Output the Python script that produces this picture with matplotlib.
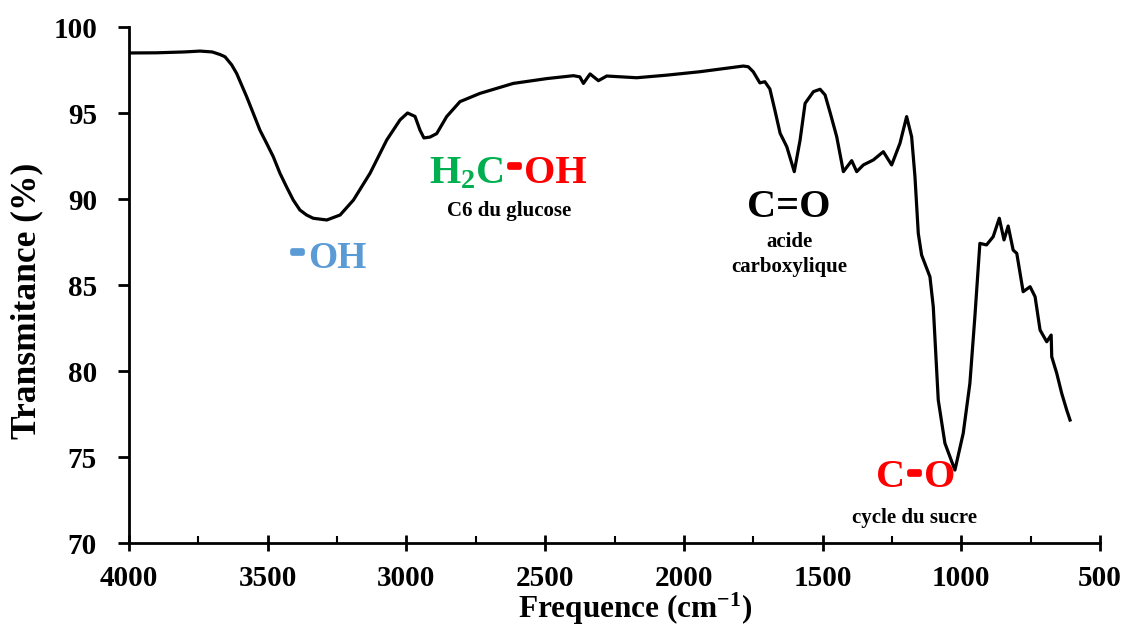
import matplotlib
matplotlib.use("Agg")
import matplotlib.pyplot as plt
import matplotlib.patheffects as pe
from matplotlib.ticker import MultipleLocator

plt.rcParams['font.family'] = ['Liberation Serif', 'DejaVu Serif']
plt.rcParams['font.weight'] = 'bold'
plt.rcParams['mathtext.fontset'] = 'custom'
plt.rcParams['mathtext.rm'] = 'Liberation Serif:bold'
plt.rcParams['mathtext.bf'] = 'Liberation Serif:bold'
plt.rcParams['mathtext.it'] = 'Liberation Serif:bold'
plt.rcParams['mathtext.default'] = 'rm'

# ---- data ----
wavenumber = [4000, 3900, 3800, 3744, 3700, 3672, 3654, 3630, 3612, 3576, 3552,
              3528, 3504, 3480, 3456, 3432, 3408, 3384, 3360, 3336, 3287, 3239,
              3191, 3131, 3071, 3023, 2996, 2969, 2951, 2937, 2915, 2891, 2855,
              2807, 2735, 2615, 2494, 2398, 2375, 2362, 2350, 2338, 2308, 2278,
              2170, 2062, 1942, 1786, 1768, 1750, 1726, 1708, 1690, 1672, 1653,
              1629, 1602, 1581, 1563, 1533, 1509, 1491, 1472, 1449, 1425, 1395,
              1377, 1353, 1317, 1281, 1251, 1221, 1197, 1179, 1167, 1155, 1143,
              1113, 1101, 1083, 1059, 1023, 993, 969, 951, 933, 909, 885, 863,
              846, 831, 813, 800, 777, 752, 734, 716, 692, 676, 674, 656, 638,
              620, 608]
transmittance = [98.49, 98.50, 98.55, 98.60, 98.55, 98.40, 98.27, 97.80, 97.30, 95.95, 94.98,
                 94.00, 93.24, 92.46, 91.50, 90.70, 89.94, 89.36, 89.07, 88.88, 88.78, 89.07,
                 89.94, 91.50, 93.43, 94.60, 95.00, 94.80, 94.00, 93.55, 93.60, 93.80, 94.79,
                 95.66, 96.14, 96.72, 97.00, 97.17, 97.10, 96.72, 97.00, 97.27, 96.88, 97.15,
                 97.05, 97.20, 97.40, 97.73, 97.69, 97.40, 96.75, 96.82, 96.40, 95.17, 93.82,
                 93.04, 91.59, 93.43, 95.56, 96.24, 96.38, 96.05, 94.98, 93.62, 91.59, 92.23,
                 91.59, 91.98, 92.27, 92.75, 91.98, 93.24, 94.79, 93.62, 91.30, 88.00, 86.74,
                 85.48, 83.74, 78.31, 75.80, 74.24, 76.38, 79.28, 83.16, 87.42, 87.33, 87.81, 88.88,
                 87.62, 88.43, 87.03, 86.84, 84.61, 84.90, 84.32, 82.38, 81.70, 82.09, 80.83, 79.87, 78.70,
                 77.73, 77.15]

x_ticks = [4000, 3500, 3000, 2500, 2000, 1500, 1000, 500]
y_ticks = [70, 75, 80, 85, 90, 95, 100]

fig = plt.figure(figsize=(11.28, 6.28), dpi=100)
ax = fig.add_axes([129/1128, 1 - 543/628, (1100 - 129)/1128, (543 - 27)/628])

ax.plot(wavenumber, transmittance, color='black', lw=2.3, solid_joinstyle='round')

ax.set_xlim(4000, 500)
ax.set_ylim(70, 100)
ax.set_xticks(x_ticks)
ax.set_yticks(y_ticks)
ax.xaxis.set_minor_locator(MultipleLocator(250))

for s in ['top', 'right']:
    ax.spines[s].set_visible(False)
for s in ['left', 'bottom']:
    ax.spines[s].set_linewidth(2.0)

ax.tick_params(axis='y', which='major', direction='out', length=8, width=2,
               labelsize=21, pad=15)
ax.tick_params(axis='x', which='major', direction='inout', length=12, width=2,
               labelsize=21, pad=10)
ax.tick_params(axis='x', which='minor', direction='in', length=5, width=1.5)

ax.set_ylabel('Transmitance (%)', fontsize=25.5, fontweight='bold')
ax.yaxis.set_label_coords(-0.088, 0.47)
ax.set_xlabel('Frequence (cm$^{-1}$)', fontsize=22.5, fontweight='bold')
ax.xaxis.set_label_coords(0.521, -0.092)

# annotations: thick dashes via stroke effect
def dash(x, y, color, size):
    ax.text(x, y, '-', color=color, fontsize=size, ha='center', va='baseline',
            path_effects=[pe.withStroke(linewidth=3.4, foreground=color)])

# -OH (blue)
dash(3394, 86.40, '#5B9BD5', 28)
ax.text(3355, 85.99, 'OH', color='#5B9BD5', fontsize=27, ha='left', va='baseline')

# H2C-OH
ax.text(2650, 90.93, 'H$_2$C', color='#00B050', fontsize=29, ha='right', va='baseline')
dash(2612, 91.40, '#FF0000', 29)
ax.text(2578, 90.93, 'OH', color='#FF0000', fontsize=29, ha='left', va='baseline')
ax.text(2630, 89.3, 'C6 du glucose', color='black', fontsize=15, ha='center', va='center')

# C=O
ax.text(1621, 88.95, 'C=O', color='black', fontsize=29, ha='center', va='baseline')
ax.text(1621, 87.5, 'acide', color='black', fontsize=15, ha='center', va='center')
ax.text(1621, 86.05, 'carboxylique', color='black', fontsize=15, ha='center', va='center')

# C-O
ax.text(1202, 73.26, 'C', color='#FF0000', fontsize=29, ha='right', va='baseline')
dash(1170, 73.55, '#FF0000', 29)
ax.text(1136, 73.26, 'O', color='#FF0000', fontsize=29, ha='left', va='baseline')
ax.text(1170, 71.45, 'cycle du sucre', color='black', fontsize=15, ha='center', va='center')

fig.savefig('out.png', dpi=100)
